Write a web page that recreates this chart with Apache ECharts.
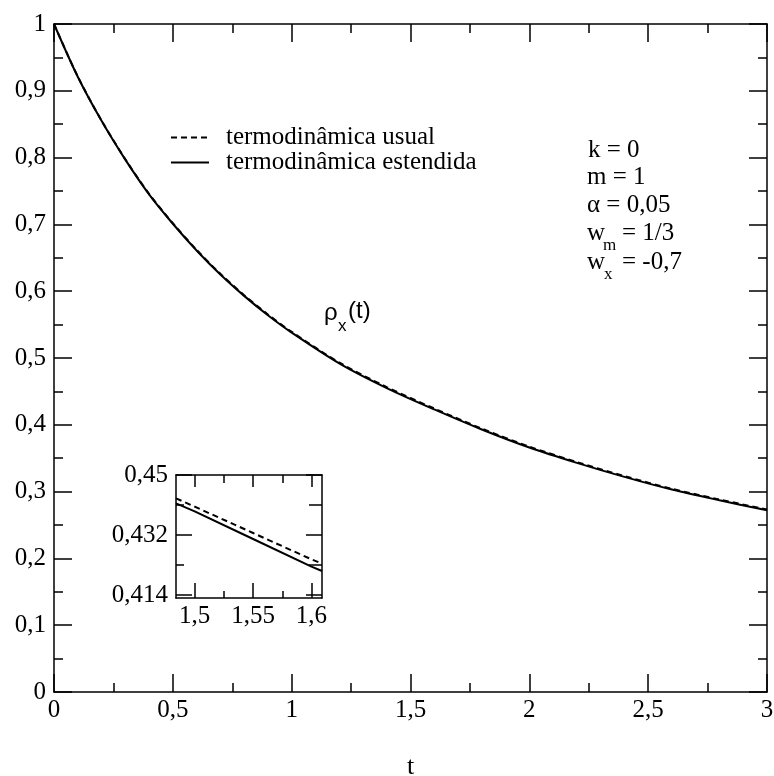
<!DOCTYPE html>
<html><head><meta charset="utf-8">
<script src="https://cdn.jsdelivr.net/npm/echarts@6/dist/echarts.min.js"></script>
<style>html,body{margin:0;padding:0;background:#fff}#c{width:774px;height:776px}</style>
</head><body><div id="c"></div>
<script>
// Main plot data
const tMain = [0, 0.1, 0.2, 0.3, 0.4, 0.5, 0.6, 0.7, 0.8, 0.9, 1.0, 1.2, 1.4, 1.6, 1.8, 2.0, 2.2, 2.4, 2.6, 2.8, 3.0];
const rhoEstendida = [1.000, 0.921, 0.855, 0.797, 0.745, 0.701, 0.661, 0.625, 0.593, 0.564, 0.538, 0.492, 0.455, 0.423, 0.393, 0.366, 0.343, 0.322, 0.303, 0.287, 0.272];
const rhoUsual = [1.000, 0.9214, 0.8555, 0.7976, 0.7457, 0.7018, 0.6619, 0.626, 0.5941, 0.5652, 0.5392, 0.4933, 0.4564, 0.4244, 0.3943, 0.3673, 0.3442, 0.3232, 0.3042, 0.2882, 0.2732];
// Inset data
const tInset = [1.484, 1.5, 1.55, 1.6, 1.609];
const insetEstendida = [0.4415, 0.4391, 0.4308, 0.4225, 0.4212];
const insetUsual = [0.4430, 0.4405, 0.4326, 0.4247, 0.4234];
// Tick labels
const insetXMajor = [1.5, 1.55, 1.6];
const insetXMinor = [1.525, 1.575];
const insetYMajor = [0.414, 0.432, 0.45];
const insetYMinor = [0.423, 0.441];
const seriesNames = ['termodinâmica usual', 'termodinâmica estendida'];

const SERIF = '"Liberation Serif", "Times New Roman", serif';
const SANS = '"Liberation Sans", Arial, sans-serif';
const fmt = v => String(Number(Number(v).toFixed(3))).replace('.', ',');
const zip = (a, b) => a.map((x, i) => [x, b[i]]);
const black = '#000';

function mainAxis(dim, pos, showLabel) {
  const isX = dim === 'x';
  return {
    gridIndex: 0, type: 'value', position: pos,
    min: 0, max: isX ? 3 : 1, interval: isX ? 0.5 : 0.1,
    axisLine: { show: true, onZero: false, lineStyle: { color: black, width: 1.5 } },
    axisTick: { show: true, inside: true, length: 18, lineStyle: { color: black, width: 1.5 } },
    minorTick: { show: true, splitNumber: 2, length: 9, lineStyle: { color: black, width: 1.5 } },
    splitLine: { show: false }, minorSplitLine: { show: false },
    axisLabel: { show: showLabel, formatter: fmt, fontSize: 25, fontFamily: SERIF, color: black, margin: isX ? 6 : 8 }
  };
}
function insetAxis(dim, pos, values, len, showLabel, showLine) {
  const isX = dim === 'x';
  return {
    gridIndex: 1, type: 'value', position: pos,
    min: isX ? 1.484 : 0.4131, max: isX ? 1.609 : 0.45,
    axisLine: { show: showLine, onZero: false, lineStyle: { color: black, width: 1.5 } },
    axisTick: { show: true, inside: true, length: len, customValues: values, lineStyle: { color: black, width: 1.5 } },
    splitLine: { show: false },
    axisLabel: { show: showLabel, customValues: values, formatter: fmt, fontSize: 25, fontFamily: SERIF, color: black, margin: isX ? 6 : 8 }
  };
}

const xMain = mainAxis('x', 'bottom', true);
xMain.name = 't';
xMain.nameLocation = 'middle';
xMain.nameGap = 62;
xMain.nameTextStyle = { fontSize: 26, fontFamily: SERIF, color: black };

const option = {
  backgroundColor: '#fff',
  animation: false,
  grid: [
    { left: 54, top: 24, width: 713, height: 668, containLabel: false, outerBoundsMode: 'none' },
    { left: 176, top: 475, width: 146, height: 123, show: true, backgroundColor: '#fff', borderWidth: 0, outerBoundsMode: 'none' }
  ],
  legend: {
    data: seriesNames, orient: 'vertical', left: 165, top: 120,
    itemWidth: 38, itemHeight: 14, itemGap: 0, selectedMode: false,
    itemStyle: { opacity: 0 },
    textStyle: { fontFamily: SERIF, fontSize: 25, color: black, padding: [0, 0, 0, 12] }
  },
  xAxis: [
    xMain,
    mainAxis('x', 'top', false),
    insetAxis('x', 'bottom', insetXMajor, 15, true, true),
    insetAxis('x', 'bottom', insetXMinor, 7, false, false),
    insetAxis('x', 'top', insetXMajor, 12, false, true),
    insetAxis('x', 'top', insetXMinor, 8, false, false)
  ],
  yAxis: [
    mainAxis('y', 'left', true),
    mainAxis('y', 'right', false),
    insetAxis('y', 'left', insetYMajor, 16, true, true),
    insetAxis('y', 'left', insetYMinor, 8, false, false),
    insetAxis('y', 'right', insetYMajor, 16, false, true),
    insetAxis('y', 'right', insetYMinor, 13, false, false)
  ],
  series: [
    { name: seriesNames[0], type: 'line', xAxisIndex: 0, yAxisIndex: 0, data: zip(tMain, rhoUsual), smooth: 0.3, symbol: 'none', z: 2,
      lineStyle: { color: black, width: 2, type: [6, 4] }, itemStyle: { color: black } },
    { name: seriesNames[1], type: 'line', xAxisIndex: 0, yAxisIndex: 0, data: zip(tMain, rhoEstendida), smooth: 0.3, symbol: 'none', z: 3,
      lineStyle: { color: black, width: 2 }, itemStyle: { color: black } },
    { name: seriesNames[0], type: 'line', xAxisIndex: 2, yAxisIndex: 2, data: zip(tInset, insetUsual), symbol: 'none', z: 4,
      lineStyle: { color: black, width: 2, type: [6, 4] }, itemStyle: { color: black } },
    { name: seriesNames[1], type: 'line', xAxisIndex: 2, yAxisIndex: 2, data: zip(tInset, insetEstendida), symbol: 'none', z: 4,
      lineStyle: { color: black, width: 2 }, itemStyle: { color: black } }
  ],
  graphic: [
    { type: 'text', x: 588, y: 150, style: { text: 'k = 0', font: '25px ' + SERIF, fill: black, verticalAlign: 'middle' } },
    { type: 'text', x: 587, y: 177, style: { text: 'm = 1', font: '25px ' + SERIF, fill: black, verticalAlign: 'middle' } },
    { type: 'text', x: 587, y: 205, style: { text: 'α = 0,05', font: '25px ' + SERIF, fill: black, verticalAlign: 'middle' } },
    { type: 'text', x: 587, y: 233, style: { text: 'w', font: '25px ' + SERIF, fill: black, verticalAlign: 'middle' } },
    { type: 'text', x: 603, y: 246, style: { text: 'm', font: '17px ' + SERIF, fill: black, verticalAlign: 'middle' } },
    { type: 'text', x: 622, y: 233, style: { text: '= 1/3', font: '25px ' + SERIF, fill: black, verticalAlign: 'middle' } },
    { type: 'text', x: 587, y: 262, style: { text: 'w', font: '25px ' + SERIF, fill: black, verticalAlign: 'middle' } },
    { type: 'text', x: 604, y: 275, style: { text: 'x', font: '17px ' + SERIF, fill: black, verticalAlign: 'middle' } },
    { type: 'text', x: 622, y: 262, style: { text: '= -0,7', font: '25px ' + SERIF, fill: black, verticalAlign: 'middle' } },
    { type: 'text', x: 324, y: 313, style: { text: 'ρ', font: '24px ' + SANS, fill: black, verticalAlign: 'middle' } },
    { type: 'text', x: 338, y: 326, style: { text: 'x', font: '17px ' + SANS, fill: black, verticalAlign: 'middle' } },
    { type: 'text', x: 348, y: 311, style: { text: '(t)', font: '24px ' + SANS, fill: black, verticalAlign: 'middle' } }
  ]
};
const chart = echarts.init(document.getElementById('c'));
chart.setOption(option);
</script>
</body></html>
